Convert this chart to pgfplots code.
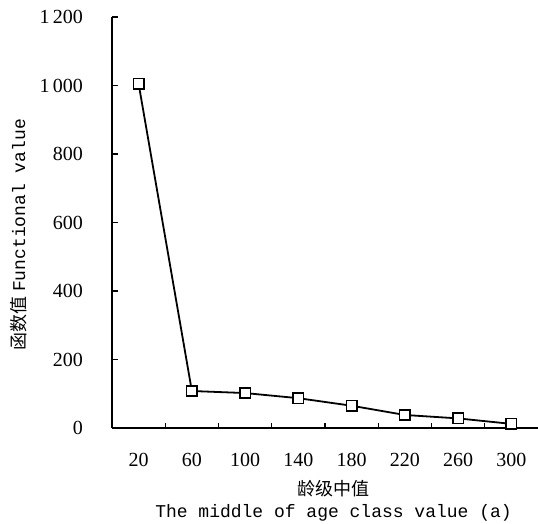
\documentclass[border=0pt]{standalone}
\usepackage{pgfplots}
\pgfplotsset{compat=1.18}
\usepackage{fontspec}
\setmainfont{Liberation Serif}
\setmonofont{Liberation Mono}
\newfontfamily\cjk{Noto Sans CJK SC}
\begin{document}
\begin{tikzpicture}
\begin{axis}[
  at={(0,0)}, anchor=south west,
  scale only axis, width=213pt, height=205.5pt,
  xmin=-0.5, xmax=7.5, ymin=0, ymax=1200,
  axis lines=left, axis line style={-, line width=0.75pt},
  tick align=inside,
  xtick={0,...,7}, xticklabels={20,60,100,140,180,220,260,300},
  major x tick style={draw=none},
  minor xtick={0.5,1.5,...,6.5},
  minor tick length=2.5pt, major tick length=3pt,
  ytick={0,200,...,1200}, yticklabels={0,200,400,600,800,1\,000,1\,200},
  tick style={black, line width=0.6pt},
  /pgf/number format/assume math mode=true,
  tick label style={font=\fontsize{10}{12}\selectfont},
  xticklabel style={yshift=-9pt},
  yticklabel style={xshift=-11pt},
  xlabel={{\cjk 龄级中值}\\{\ttfamily The middle of age class value (a)}},
  xlabel style={align=center, at={(axis description cs:0.52,-0.178)}, anchor=center, font=\fontsize{9}{11}\selectfont},
  ylabel={{\cjk 函数值} {\ttfamily Functional value}},
  ylabel style={at={(axis description cs:-0.22,0.47)}, anchor=center, font=\fontsize{9}{11}\selectfont},
]
\addplot[black, line width=0.9pt, mark=square*, mark size=2.6pt, mark options={fill=white, line width=0.8pt}]
  coordinates {(0,1005)(1,108)(2,102)(3,87)(4,65)(5,38)(6,28)(7,12)};
\end{axis}
\pgfresetboundingbox
\path (-56pt,-48pt) rectangle (213pt,214pt);
\end{tikzpicture}
\end{document}
